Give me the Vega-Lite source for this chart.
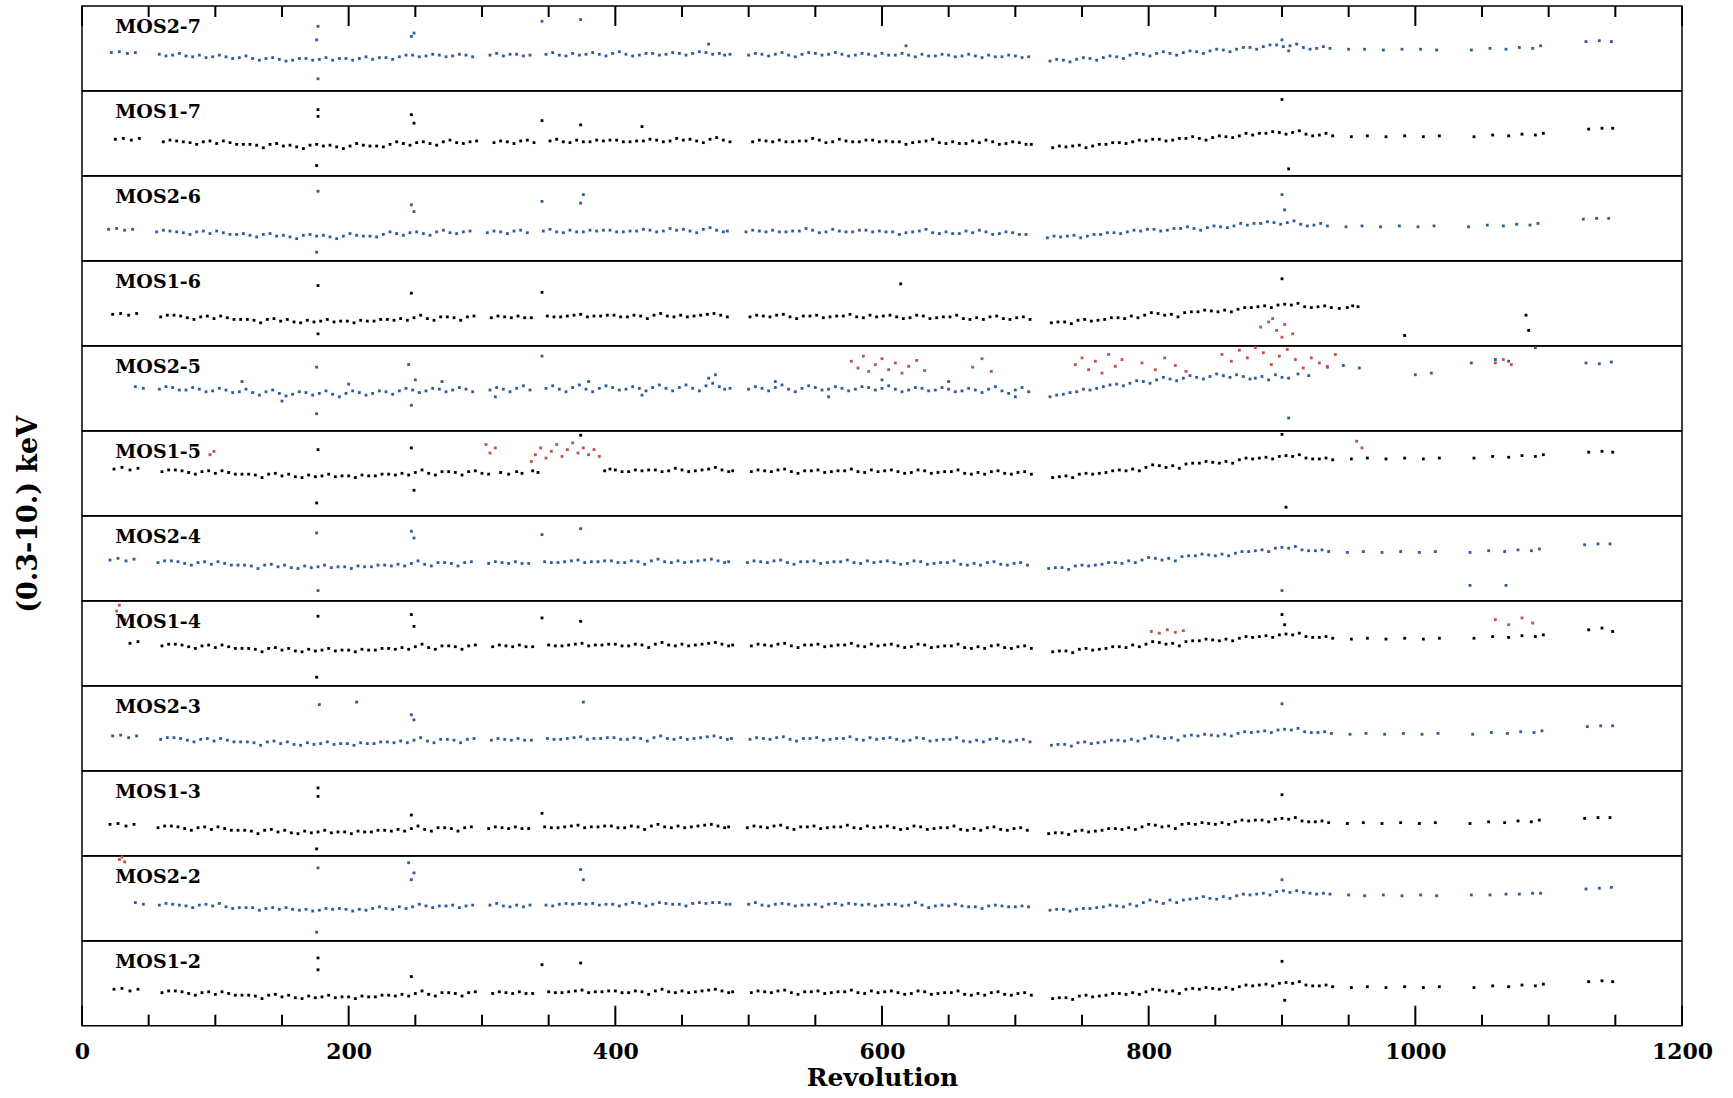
{
"$schema": "https://vega.github.io/schema/vega-lite/v6.json",
"background": "white",
"padding": {"left": 14, "top": 5, "right": 5, "bottom": 0},
"title": {"text": "(0.3-10.) keV", "orient": "left", "anchor": "middle", "font": "DejaVu Serif", "fontSize": 27, "fontWeight": "bold", "color": "#000", "offset": 31, "dx": 34},
"spacing": 0,
"bounds": "flush",
"config": {"view": {"stroke": "#000", "strokeWidth": 1.5}, "square": {"size": 8, "opacity": 1}, "text": {"align": "left", "baseline": "middle", "font": "DejaVu Serif", "fontWeight": "bold", "fontSize": 19, "color": "#000"}},
"datasets": {
"p1": [{"r":22,"v":45},{"r":28,"v":46},{"r":34,"v":44},{"r":40,"v":45},{"r":58,"v":43},{"r":63,"v":41},{"r":68,"v":42},{"r":73,"v":44},{"r":78,"v":41},{"r":83,"v":40},{"r":88,"v":42},{"r":93,"v":39},{"r":98,"v":40},{"r":103,"v":42},{"r":108,"v":40},{"r":113,"v":38},{"r":118,"v":39},{"r":123,"v":41},{"r":128,"v":38},{"r":133,"v":36},{"r":138,"v":38},{"r":143,"v":39},{"r":148,"v":37},{"r":153,"v":35},{"r":158,"v":36},{"r":163,"v":38},{"r":168,"v":38},{"r":173,"v":36},{"r":178,"v":37},{"r":183,"v":39},{"r":188,"v":36},{"r":193,"v":38},{"r":198,"v":38},{"r":203,"v":36},{"r":208,"v":38},{"r":213,"v":40},{"r":218,"v":37},{"r":223,"v":39},{"r":228,"v":39},{"r":233,"v":37},{"r":238,"v":40},{"r":243,"v":42},{"r":248,"v":42},{"r":253,"v":40},{"r":258,"v":41},{"r":263,"v":43},{"r":268,"v":42},{"r":273,"v":40},{"r":278,"v":41},{"r":283,"v":43},{"r":288,"v":42},{"r":293,"v":40},{"r":306,"v":42},{"r":311,"v":44},{"r":316,"v":41},{"r":321,"v":43},{"r":326,"v":43},{"r":331,"v":41},{"r":336,"v":42},{"r":348,"v":43},{"r":353,"v":45},{"r":358,"v":42},{"r":363,"v":41},{"r":368,"v":44},{"r":373,"v":42},{"r":378,"v":43},{"r":383,"v":45},{"r":388,"v":43},{"r":393,"v":41},{"r":398,"v":44},{"r":403,"v":46},{"r":408,"v":43},{"r":413,"v":41},{"r":418,"v":42},{"r":423,"v":44},{"r":428,"v":44},{"r":433,"v":42},{"r":438,"v":43},{"r":443,"v":45},{"r":448,"v":44},{"r":453,"v":42},{"r":458,"v":44},{"r":463,"v":46},{"r":468,"v":45},{"r":473,"v":43},{"r":478,"v":44},{"r":482,"v":42},{"r":486,"v":43},{"r":500,"v":42},{"r":505,"v":44},{"r":510,"v":43},{"r":515,"v":41},{"r":520,"v":43},{"r":525,"v":45},{"r":530,"v":42},{"r":535,"v":40},{"r":540,"v":43},{"r":545,"v":45},{"r":550,"v":44},{"r":555,"v":42},{"r":560,"v":43},{"r":565,"v":45},{"r":570,"v":43},{"r":575,"v":41},{"r":580,"v":42},{"r":585,"v":44},{"r":590,"v":43},{"r":595,"v":41},{"r":600,"v":44},{"r":605,"v":42},{"r":610,"v":42},{"r":615,"v":44},{"r":620,"v":42},{"r":625,"v":40},{"r":630,"v":43},{"r":635,"v":41},{"r":640,"v":41},{"r":645,"v":43},{"r":650,"v":42},{"r":655,"v":40},{"r":660,"v":41},{"r":665,"v":43},{"r":670,"v":41},{"r":675,"v":39},{"r":680,"v":42},{"r":685,"v":40},{"r":690,"v":40},{"r":695,"v":42},{"r":700,"v":41},{"r":705,"v":39},{"r":710,"v":40},{"r":726,"v":35},{"r":731,"v":37},{"r":736,"v":36},{"r":741,"v":34},{"r":746,"v":37},{"r":751,"v":39},{"r":756,"v":38},{"r":761,"v":36},{"r":766,"v":39},{"r":771,"v":41},{"r":776,"v":40},{"r":781,"v":38},{"r":786,"v":42},{"r":791,"v":44},{"r":796,"v":43},{"r":801,"v":41},{"r":806,"v":44},{"r":811,"v":46},{"r":816,"v":44},{"r":821,"v":42},{"r":826,"v":45},{"r":831,"v":47},{"r":836,"v":46},{"r":841,"v":44},{"r":846,"v":47},{"r":851,"v":49},{"r":856,"v":48},{"r":861,"v":46},{"r":866,"v":49},{"r":871,"v":51},{"r":876,"v":51},{"r":881,"v":49},{"r":886,"v":52},{"r":891,"v":54},{"r":896,"v":54},{"r":901,"v":52},{"r":906,"v":53},{"r":911,"v":55},{"r":916,"v":51},{"r":921,"v":49},{"r":926,"v":50},{"r":931,"v":52},{"r":936,"v":50},{"r":950,"v":49},{"r":962,"v":49},{"r":976,"v":48},{"r":990,"v":49},{"r":1004,"v":49},{"r":1016,"v":48},{"r":1042,"v":48},{"r":1056,"v":50},{"r":1068,"v":49},{"r":1078,"v":51},{"r":1088,"v":50},{"r":1094,"v":53},{"r":1128,"v":58},{"r":1138,"v":59},{"r":1147,"v":58},{"r":177,"v":76},{"r":177,"v":14},{"r":176,"v":60},{"r":247,"v":64},{"r":249,"v":68},{"r":345,"v":82},{"r":374,"v":84},{"r":470,"v":55},{"r":618,"v":53},{"r":900,"v":60},{"r":905,"v":47}],
"p2": [{"r":25,"v":43},{"r":31,"v":44},{"r":37,"v":42},{"r":43,"v":44},{"r":61,"v":40},{"r":66,"v":42},{"r":71,"v":41},{"r":76,"v":40},{"r":81,"v":39},{"r":86,"v":37},{"r":91,"v":40},{"r":96,"v":41},{"r":101,"v":38},{"r":106,"v":41},{"r":111,"v":39},{"r":116,"v":37},{"r":121,"v":37},{"r":126,"v":37},{"r":131,"v":36},{"r":136,"v":33},{"r":141,"v":37},{"r":146,"v":38},{"r":151,"v":35},{"r":156,"v":36},{"r":161,"v":34},{"r":166,"v":32},{"r":171,"v":36},{"r":176,"v":37},{"r":181,"v":35},{"r":186,"v":36},{"r":191,"v":34},{"r":196,"v":32},{"r":201,"v":35},{"r":206,"v":38},{"r":211,"v":36},{"r":216,"v":35},{"r":221,"v":35},{"r":226,"v":34},{"r":231,"v":37},{"r":236,"v":40},{"r":241,"v":38},{"r":246,"v":36},{"r":251,"v":39},{"r":256,"v":40},{"r":261,"v":38},{"r":266,"v":36},{"r":271,"v":40},{"r":276,"v":42},{"r":281,"v":39},{"r":286,"v":38},{"r":291,"v":40},{"r":296,"v":41},{"r":309,"v":39},{"r":314,"v":41},{"r":319,"v":40},{"r":324,"v":38},{"r":329,"v":41},{"r":334,"v":42},{"r":339,"v":39},{"r":351,"v":41},{"r":356,"v":43},{"r":361,"v":40},{"r":366,"v":39},{"r":371,"v":42},{"r":376,"v":40},{"r":381,"v":40},{"r":386,"v":42},{"r":391,"v":41},{"r":396,"v":42},{"r":401,"v":42},{"r":406,"v":40},{"r":411,"v":40},{"r":416,"v":41},{"r":421,"v":41},{"r":426,"v":43},{"r":431,"v":42},{"r":436,"v":40},{"r":441,"v":41},{"r":446,"v":44},{"r":451,"v":42},{"r":456,"v":43},{"r":461,"v":41},{"r":466,"v":39},{"r":471,"v":43},{"r":476,"v":45},{"r":481,"v":42},{"r":486,"v":40},{"r":503,"v":40},{"r":508,"v":42},{"r":513,"v":41},{"r":518,"v":40},{"r":523,"v":42},{"r":528,"v":40},{"r":533,"v":40},{"r":538,"v":41},{"r":543,"v":41},{"r":548,"v":44},{"r":553,"v":42},{"r":558,"v":39},{"r":563,"v":40},{"r":568,"v":43},{"r":573,"v":41},{"r":578,"v":40},{"r":583,"v":40},{"r":588,"v":42},{"r":593,"v":42},{"r":598,"v":40},{"r":603,"v":41},{"r":608,"v":40},{"r":613,"v":40},{"r":618,"v":37},{"r":623,"v":39},{"r":628,"v":40},{"r":633,"v":41},{"r":638,"v":43},{"r":643,"v":39},{"r":648,"v":38},{"r":653,"v":40},{"r":658,"v":38},{"r":663,"v":38},{"r":668,"v":41},{"r":673,"v":39},{"r":678,"v":42},{"r":683,"v":40},{"r":688,"v":37},{"r":693,"v":38},{"r":698,"v":40},{"r":703,"v":39},{"r":708,"v":37},{"r":712,"v":37},{"r":728,"v":33},{"r":733,"v":35},{"r":738,"v":34},{"r":743,"v":35},{"r":748,"v":36},{"r":753,"v":33},{"r":758,"v":35},{"r":763,"v":37},{"r":768,"v":37},{"r":773,"v":39},{"r":778,"v":39},{"r":783,"v":38},{"r":788,"v":40},{"r":793,"v":42},{"r":798,"v":41},{"r":803,"v":43},{"r":808,"v":43},{"r":813,"v":41},{"r":818,"v":42},{"r":823,"v":44},{"r":828,"v":44},{"r":833,"v":46},{"r":838,"v":44},{"r":843,"v":42},{"r":848,"v":45},{"r":853,"v":47},{"r":858,"v":46},{"r":863,"v":45},{"r":868,"v":47},{"r":873,"v":50},{"r":878,"v":48},{"r":883,"v":50},{"r":888,"v":50},{"r":893,"v":52},{"r":898,"v":51},{"r":903,"v":49},{"r":908,"v":51},{"r":913,"v":53},{"r":918,"v":49},{"r":923,"v":47},{"r":928,"v":48},{"r":933,"v":50},{"r":938,"v":47},{"r":952,"v":46},{"r":964,"v":47},{"r":978,"v":46},{"r":992,"v":47},{"r":1006,"v":46},{"r":1018,"v":47},{"r":1044,"v":46},{"r":1058,"v":48},{"r":1070,"v":47},{"r":1080,"v":49},{"r":1090,"v":48},{"r":1096,"v":50},{"r":1130,"v":55},{"r":1140,"v":56},{"r":1148,"v":56},{"r":177,"v":78},{"r":177,"v":70},{"r":176,"v":12},{"r":247,"v":72},{"r":249,"v":62},{"r":345,"v":65},{"r":374,"v":60},{"r":420,"v":58},{"r":900,"v":90},{"r":905,"v":8}],
"p3": [{"r":20,"v":37},{"r":26,"v":38},{"r":32,"v":36},{"r":38,"v":37},{"r":56,"v":34},{"r":61,"v":36},{"r":66,"v":35},{"r":71,"v":34},{"r":76,"v":33},{"r":81,"v":31},{"r":86,"v":34},{"r":91,"v":35},{"r":96,"v":32},{"r":101,"v":35},{"r":106,"v":33},{"r":111,"v":31},{"r":116,"v":31},{"r":121,"v":32},{"r":126,"v":30},{"r":131,"v":28},{"r":136,"v":31},{"r":141,"v":32},{"r":146,"v":29},{"r":151,"v":30},{"r":156,"v":28},{"r":161,"v":26},{"r":166,"v":30},{"r":171,"v":31},{"r":176,"v":29},{"r":181,"v":30},{"r":186,"v":28},{"r":191,"v":26},{"r":196,"v":29},{"r":201,"v":32},{"r":206,"v":30},{"r":211,"v":29},{"r":216,"v":29},{"r":221,"v":28},{"r":226,"v":31},{"r":231,"v":34},{"r":236,"v":32},{"r":241,"v":30},{"r":246,"v":33},{"r":251,"v":34},{"r":256,"v":32},{"r":261,"v":30},{"r":266,"v":34},{"r":271,"v":36},{"r":276,"v":33},{"r":281,"v":32},{"r":286,"v":34},{"r":291,"v":35},{"r":304,"v":33},{"r":309,"v":35},{"r":314,"v":34},{"r":319,"v":32},{"r":324,"v":35},{"r":329,"v":36},{"r":334,"v":33},{"r":346,"v":35},{"r":351,"v":37},{"r":356,"v":34},{"r":361,"v":33},{"r":366,"v":36},{"r":371,"v":34},{"r":376,"v":34},{"r":381,"v":36},{"r":386,"v":35},{"r":391,"v":36},{"r":396,"v":36},{"r":401,"v":34},{"r":406,"v":34},{"r":411,"v":35},{"r":416,"v":35},{"r":421,"v":37},{"r":426,"v":36},{"r":431,"v":34},{"r":436,"v":35},{"r":441,"v":38},{"r":446,"v":36},{"r":451,"v":37},{"r":456,"v":35},{"r":461,"v":33},{"r":466,"v":37},{"r":471,"v":39},{"r":476,"v":36},{"r":481,"v":34},{"r":484,"v":35},{"r":498,"v":34},{"r":503,"v":36},{"r":508,"v":35},{"r":513,"v":34},{"r":518,"v":36},{"r":523,"v":34},{"r":528,"v":34},{"r":533,"v":35},{"r":538,"v":35},{"r":543,"v":38},{"r":548,"v":36},{"r":553,"v":33},{"r":558,"v":34},{"r":563,"v":37},{"r":568,"v":35},{"r":573,"v":34},{"r":578,"v":34},{"r":583,"v":36},{"r":588,"v":36},{"r":593,"v":34},{"r":598,"v":35},{"r":603,"v":34},{"r":608,"v":34},{"r":613,"v":31},{"r":618,"v":33},{"r":623,"v":34},{"r":628,"v":35},{"r":633,"v":37},{"r":638,"v":33},{"r":643,"v":32},{"r":648,"v":34},{"r":653,"v":32},{"r":658,"v":32},{"r":663,"v":35},{"r":668,"v":33},{"r":673,"v":36},{"r":678,"v":34},{"r":683,"v":31},{"r":688,"v":32},{"r":693,"v":34},{"r":698,"v":33},{"r":703,"v":31},{"r":708,"v":31},{"r":724,"v":27},{"r":729,"v":29},{"r":734,"v":28},{"r":739,"v":29},{"r":744,"v":30},{"r":749,"v":27},{"r":754,"v":29},{"r":759,"v":31},{"r":764,"v":31},{"r":769,"v":33},{"r":774,"v":33},{"r":779,"v":32},{"r":784,"v":34},{"r":789,"v":36},{"r":794,"v":35},{"r":799,"v":37},{"r":804,"v":37},{"r":809,"v":35},{"r":814,"v":36},{"r":819,"v":38},{"r":824,"v":38},{"r":829,"v":40},{"r":834,"v":38},{"r":839,"v":36},{"r":844,"v":39},{"r":849,"v":41},{"r":854,"v":40},{"r":859,"v":39},{"r":864,"v":41},{"r":869,"v":44},{"r":874,"v":42},{"r":879,"v":44},{"r":884,"v":44},{"r":889,"v":46},{"r":894,"v":45},{"r":899,"v":43},{"r":904,"v":45},{"r":909,"v":47},{"r":914,"v":43},{"r":919,"v":41},{"r":924,"v":42},{"r":929,"v":44},{"r":934,"v":41},{"r":948,"v":40},{"r":960,"v":41},{"r":974,"v":40},{"r":988,"v":41},{"r":1002,"v":40},{"r":1014,"v":41},{"r":1040,"v":40},{"r":1054,"v":42},{"r":1066,"v":41},{"r":1076,"v":43},{"r":1086,"v":42},{"r":1092,"v":44},{"r":1126,"v":49},{"r":1136,"v":50},{"r":1145,"v":50},{"r":177,"v":82},{"r":176,"v":10},{"r":247,"v":66},{"r":249,"v":58},{"r":345,"v":70},{"r":374,"v":68},{"r":376,"v":78},{"r":900,"v":78},{"r":902,"v":60}],
"p4": [{"r":23,"v":37},{"r":29,"v":38},{"r":35,"v":36},{"r":41,"v":38},{"r":59,"v":34},{"r":64,"v":36},{"r":69,"v":36},{"r":74,"v":35},{"r":79,"v":33},{"r":84,"v":31},{"r":89,"v":34},{"r":94,"v":35},{"r":99,"v":32},{"r":104,"v":35},{"r":109,"v":33},{"r":114,"v":31},{"r":119,"v":31},{"r":124,"v":31},{"r":129,"v":30},{"r":134,"v":27},{"r":139,"v":31},{"r":144,"v":32},{"r":149,"v":29},{"r":154,"v":31},{"r":159,"v":28},{"r":164,"v":27},{"r":169,"v":30},{"r":174,"v":28},{"r":179,"v":29},{"r":184,"v":31},{"r":189,"v":28},{"r":194,"v":29},{"r":199,"v":29},{"r":204,"v":27},{"r":209,"v":30},{"r":214,"v":29},{"r":219,"v":29},{"r":224,"v":31},{"r":229,"v":31},{"r":234,"v":30},{"r":239,"v":32},{"r":244,"v":30},{"r":249,"v":33},{"r":254,"v":36},{"r":259,"v":32},{"r":264,"v":30},{"r":269,"v":34},{"r":274,"v":34},{"r":279,"v":33},{"r":284,"v":30},{"r":289,"v":34},{"r":294,"v":35},{"r":307,"v":33},{"r":312,"v":35},{"r":317,"v":34},{"r":322,"v":33},{"r":327,"v":35},{"r":332,"v":33},{"r":337,"v":33},{"r":349,"v":35},{"r":354,"v":34},{"r":359,"v":34},{"r":364,"v":35},{"r":369,"v":36},{"r":374,"v":37},{"r":379,"v":34},{"r":384,"v":35},{"r":389,"v":35},{"r":394,"v":36},{"r":399,"v":36},{"r":404,"v":34},{"r":409,"v":34},{"r":414,"v":36},{"r":419,"v":35},{"r":424,"v":32},{"r":429,"v":36},{"r":434,"v":38},{"r":439,"v":35},{"r":444,"v":34},{"r":449,"v":36},{"r":454,"v":34},{"r":459,"v":35},{"r":464,"v":36},{"r":469,"v":37},{"r":474,"v":38},{"r":479,"v":36},{"r":484,"v":34},{"r":501,"v":34},{"r":506,"v":36},{"r":511,"v":35},{"r":516,"v":34},{"r":521,"v":36},{"r":526,"v":37},{"r":531,"v":34},{"r":536,"v":32},{"r":541,"v":35},{"r":546,"v":35},{"r":551,"v":36},{"r":556,"v":33},{"r":561,"v":34},{"r":566,"v":35},{"r":571,"v":35},{"r":576,"v":37},{"r":581,"v":34},{"r":586,"v":33},{"r":591,"v":36},{"r":596,"v":34},{"r":601,"v":35},{"r":606,"v":36},{"r":611,"v":34},{"r":616,"v":32},{"r":621,"v":33},{"r":626,"v":36},{"r":631,"v":35},{"r":636,"v":32},{"r":641,"v":33},{"r":646,"v":34},{"r":651,"v":34},{"r":656,"v":36},{"r":661,"v":32},{"r":666,"v":31},{"r":671,"v":33},{"r":676,"v":31},{"r":681,"v":34},{"r":686,"v":35},{"r":691,"v":32},{"r":696,"v":31},{"r":701,"v":33},{"r":706,"v":34},{"r":711,"v":31},{"r":727,"v":27},{"r":732,"v":28},{"r":737,"v":28},{"r":742,"v":26},{"r":747,"v":30},{"r":752,"v":31},{"r":757,"v":29},{"r":762,"v":30},{"r":767,"v":31},{"r":772,"v":33},{"r":777,"v":33},{"r":782,"v":32},{"r":787,"v":35},{"r":792,"v":33},{"r":797,"v":36},{"r":802,"v":39},{"r":807,"v":38},{"r":812,"v":36},{"r":817,"v":37},{"r":822,"v":34},{"r":827,"v":39},{"r":832,"v":40},{"r":837,"v":40},{"r":842,"v":42},{"r":847,"v":41},{"r":852,"v":40},{"r":857,"v":42},{"r":862,"v":40},{"r":867,"v":43},{"r":872,"v":45},{"r":877,"v":45},{"r":882,"v":46},{"r":887,"v":47},{"r":892,"v":45},{"r":897,"v":48},{"r":902,"v":49},{"r":907,"v":48},{"r":912,"v":50},{"r":917,"v":46},{"r":922,"v":45},{"r":927,"v":46},{"r":932,"v":47},{"r":937,"v":45},{"r":943,"v":44},{"r":949,"v":45},{"r":953,"v":47},{"r":957,"v":46},{"r":992,"v":12},{"r":1083,"v":36},{"r":1085,"v":18},{"r":177,"v":71},{"r":177,"v":14},{"r":247,"v":62},{"r":345,"v":63},{"r":900,"v":79},{"r":614,"v":73},{"r":884,"v":22,"f":1},{"r":890,"v":28,"f":1},{"r":896,"v":18,"f":1},{"r":902,"v":25,"f":1},{"r":908,"v":14,"f":1},{"r":900,"v":10,"f":1},{"r":893,"v":32,"f":1}],
"p5": [{"r":40,"v":52},{"r":46,"v":50},{"r":58,"v":49},{"r":63,"v":52},{"r":68,"v":51},{"r":73,"v":48},{"r":78,"v":48},{"r":83,"v":51},{"r":88,"v":49},{"r":93,"v":46},{"r":98,"v":47},{"r":103,"v":50},{"r":108,"v":48},{"r":113,"v":45},{"r":118,"v":46},{"r":123,"v":49},{"r":128,"v":45},{"r":133,"v":42},{"r":138,"v":46},{"r":143,"v":48},{"r":148,"v":44},{"r":153,"v":41},{"r":158,"v":43},{"r":163,"v":46},{"r":168,"v":45},{"r":173,"v":42},{"r":178,"v":44},{"r":183,"v":47},{"r":188,"v":43},{"r":193,"v":40},{"r":198,"v":44},{"r":203,"v":47},{"r":208,"v":45},{"r":213,"v":42},{"r":218,"v":44},{"r":223,"v":47},{"r":228,"v":46},{"r":233,"v":43},{"r":238,"v":47},{"r":243,"v":50},{"r":248,"v":48},{"r":253,"v":45},{"r":258,"v":47},{"r":263,"v":50},{"r":268,"v":49},{"r":273,"v":46},{"r":278,"v":48},{"r":283,"v":51},{"r":288,"v":49},{"r":293,"v":46},{"r":306,"v":48},{"r":311,"v":51},{"r":316,"v":49},{"r":321,"v":46},{"r":326,"v":50},{"r":331,"v":53},{"r":336,"v":48},{"r":348,"v":50},{"r":353,"v":53},{"r":358,"v":49},{"r":363,"v":46},{"r":368,"v":51},{"r":373,"v":54},{"r":378,"v":49},{"r":383,"v":46},{"r":388,"v":50},{"r":393,"v":53},{"r":398,"v":51},{"r":403,"v":48},{"r":408,"v":49},{"r":413,"v":52},{"r":418,"v":50},{"r":423,"v":47},{"r":428,"v":51},{"r":433,"v":54},{"r":438,"v":50},{"r":443,"v":47},{"r":448,"v":51},{"r":453,"v":54},{"r":458,"v":50},{"r":463,"v":47},{"r":468,"v":53},{"r":473,"v":56},{"r":478,"v":52},{"r":482,"v":49},{"r":486,"v":50},{"r":500,"v":49},{"r":505,"v":52},{"r":510,"v":50},{"r":515,"v":47},{"r":520,"v":51},{"r":525,"v":54},{"r":530,"v":49},{"r":535,"v":46},{"r":540,"v":50},{"r":545,"v":53},{"r":550,"v":51},{"r":555,"v":48},{"r":560,"v":49},{"r":565,"v":52},{"r":570,"v":50},{"r":575,"v":47},{"r":580,"v":49},{"r":585,"v":52},{"r":590,"v":51},{"r":595,"v":48},{"r":600,"v":50},{"r":605,"v":53},{"r":610,"v":49},{"r":615,"v":46},{"r":620,"v":48},{"r":625,"v":51},{"r":630,"v":50},{"r":635,"v":47},{"r":640,"v":48},{"r":645,"v":51},{"r":650,"v":49},{"r":655,"v":46},{"r":660,"v":47},{"r":665,"v":50},{"r":670,"v":48},{"r":675,"v":45},{"r":680,"v":49},{"r":685,"v":52},{"r":690,"v":47},{"r":695,"v":44},{"r":700,"v":48},{"r":705,"v":51},{"r":710,"v":46},{"r":726,"v":40},{"r":731,"v":42},{"r":736,"v":43},{"r":741,"v":45},{"r":746,"v":46},{"r":751,"v":49},{"r":756,"v":48},{"r":761,"v":50},{"r":766,"v":52},{"r":771,"v":54},{"r":776,"v":55},{"r":781,"v":53},{"r":786,"v":56},{"r":791,"v":59},{"r":796,"v":58},{"r":801,"v":56},{"r":806,"v":60},{"r":811,"v":63},{"r":816,"v":61},{"r":821,"v":59},{"r":826,"v":62},{"r":831,"v":65},{"r":836,"v":63},{"r":841,"v":61},{"r":846,"v":64},{"r":851,"v":67},{"r":856,"v":65},{"r":861,"v":63},{"r":866,"v":66},{"r":871,"v":64},{"r":876,"v":61},{"r":880,"v":62},{"r":885,"v":64},{"r":890,"v":60},{"r":895,"v":66},{"r":900,"v":63},{"r":905,"v":62},{"r":912,"v":67},{"r":920,"v":65},{"r":934,"v":75},{"r":946,"v":77},{"r":958,"v":74},{"r":1000,"v":66},{"r":1012,"v":68},{"r":1042,"v":80},{"r":1060,"v":84},{"r":1070,"v":82},{"r":1090,"v":98},{"r":1128,"v":80},{"r":1138,"v":79},{"r":1147,"v":81},{"r":120,"v":58},{"r":150,"v":35},{"r":200,"v":55},{"r":250,"v":60},{"r":270,"v":58},{"r":310,"v":40},{"r":380,"v":58},{"r":420,"v":42},{"r":470,"v":62},{"r":475,"v":66},{"r":520,"v":58},{"r":560,"v":40},{"r":600,"v":60},{"r":650,"v":58},{"r":700,"v":40},{"r":176,"v":75},{"r":176,"v":20},{"r":245,"v":78},{"r":247,"v":30},{"r":345,"v":88},{"r":905,"v":15},{"r":577,"v":82,"f":1},{"r":582,"v":74,"f":1},{"r":586,"v":88,"f":1},{"r":590,"v":70,"f":1},{"r":595,"v":78,"f":1},{"r":600,"v":85,"f":1},{"r":605,"v":72,"f":1},{"r":610,"v":80,"f":1},{"r":615,"v":68,"f":1},{"r":620,"v":76,"f":1},{"r":626,"v":83,"f":1},{"r":632,"v":71,"f":1},{"r":668,"v":75,"f":1},{"r":675,"v":85,"f":1},{"r":682,"v":70,"f":1},{"r":745,"v":78,"f":1},{"r":750,"v":86,"f":1},{"r":755,"v":72,"f":1},{"r":760,"v":82,"f":1},{"r":765,"v":68,"f":1},{"r":770,"v":90,"f":1},{"r":775,"v":76,"f":1},{"r":780,"v":84,"f":1},{"r":795,"v":80,"f":1},{"r":805,"v":72,"f":1},{"r":812,"v":86,"f":1},{"r":820,"v":77,"f":1},{"r":828,"v":70,"f":1},{"r":855,"v":90,"f":1},{"r":862,"v":82,"f":1},{"r":868,"v":95,"f":1},{"r":874,"v":86,"f":1},{"r":880,"v":98,"f":1},{"r":886,"v":92,"f":1},{"r":892,"v":78,"f":1},{"r":898,"v":88,"f":1},{"r":904,"v":96,"f":1},{"r":910,"v":84,"f":1},{"r":916,"v":74,"f":1},{"r":922,"v":86,"f":1},{"r":928,"v":80,"f":1},{"r":934,"v":76,"f":1},{"r":940,"v":90,"f":1},{"r":1060,"v":80,"f":1},{"r":1066,"v":84,"f":1},{"r":1072,"v":78,"f":1}],
"p6": [{"r":24,"v":55},{"r":30,"v":57},{"r":36,"v":54},{"r":42,"v":56},{"r":60,"v":52},{"r":65,"v":54},{"r":70,"v":54},{"r":75,"v":53},{"r":80,"v":51},{"r":85,"v":49},{"r":90,"v":52},{"r":95,"v":53},{"r":100,"v":50},{"r":105,"v":53},{"r":110,"v":51},{"r":115,"v":49},{"r":120,"v":49},{"r":125,"v":49},{"r":130,"v":48},{"r":135,"v":45},{"r":140,"v":49},{"r":145,"v":50},{"r":150,"v":47},{"r":155,"v":49},{"r":160,"v":46},{"r":165,"v":45},{"r":170,"v":48},{"r":175,"v":46},{"r":180,"v":47},{"r":185,"v":49},{"r":190,"v":46},{"r":195,"v":47},{"r":200,"v":47},{"r":205,"v":45},{"r":210,"v":48},{"r":215,"v":47},{"r":220,"v":47},{"r":225,"v":49},{"r":230,"v":49},{"r":235,"v":48},{"r":240,"v":50},{"r":245,"v":48},{"r":250,"v":51},{"r":255,"v":54},{"r":260,"v":50},{"r":265,"v":48},{"r":270,"v":52},{"r":275,"v":52},{"r":280,"v":51},{"r":285,"v":48},{"r":290,"v":52},{"r":295,"v":53},{"r":300,"v":50},{"r":305,"v":49},{"r":314,"v":51},{"r":320,"v":49},{"r":326,"v":52},{"r":330,"v":50},{"r":338,"v":53},{"r":342,"v":51},{"r":392,"v":53},{"r":396,"v":55},{"r":400,"v":54},{"r":405,"v":52},{"r":410,"v":52},{"r":415,"v":54},{"r":420,"v":53},{"r":425,"v":54},{"r":430,"v":54},{"r":435,"v":52},{"r":440,"v":53},{"r":445,"v":56},{"r":450,"v":54},{"r":455,"v":52},{"r":460,"v":53},{"r":465,"v":54},{"r":470,"v":55},{"r":475,"v":57},{"r":480,"v":54},{"r":485,"v":52},{"r":488,"v":53},{"r":502,"v":52},{"r":507,"v":54},{"r":512,"v":53},{"r":517,"v":52},{"r":522,"v":54},{"r":527,"v":55},{"r":532,"v":52},{"r":537,"v":50},{"r":542,"v":53},{"r":547,"v":53},{"r":552,"v":54},{"r":557,"v":51},{"r":562,"v":52},{"r":567,"v":53},{"r":572,"v":53},{"r":577,"v":55},{"r":582,"v":52},{"r":587,"v":51},{"r":592,"v":54},{"r":597,"v":52},{"r":602,"v":53},{"r":607,"v":54},{"r":612,"v":52},{"r":617,"v":50},{"r":622,"v":51},{"r":627,"v":54},{"r":632,"v":53},{"r":637,"v":50},{"r":642,"v":51},{"r":647,"v":52},{"r":652,"v":52},{"r":657,"v":54},{"r":662,"v":50},{"r":667,"v":49},{"r":672,"v":51},{"r":677,"v":49},{"r":682,"v":52},{"r":687,"v":53},{"r":692,"v":50},{"r":697,"v":49},{"r":702,"v":51},{"r":707,"v":52},{"r":712,"v":49},{"r":728,"v":45},{"r":733,"v":46},{"r":738,"v":47},{"r":743,"v":45},{"r":748,"v":49},{"r":753,"v":50},{"r":758,"v":49},{"r":763,"v":50},{"r":768,"v":51},{"r":773,"v":53},{"r":778,"v":54},{"r":783,"v":53},{"r":788,"v":55},{"r":793,"v":53},{"r":798,"v":57},{"r":803,"v":60},{"r":808,"v":59},{"r":813,"v":57},{"r":818,"v":59},{"r":823,"v":56},{"r":828,"v":61},{"r":833,"v":62},{"r":838,"v":62},{"r":843,"v":64},{"r":848,"v":63},{"r":853,"v":62},{"r":858,"v":64},{"r":863,"v":62},{"r":868,"v":66},{"r":873,"v":68},{"r":878,"v":67},{"r":883,"v":68},{"r":888,"v":69},{"r":893,"v":67},{"r":898,"v":70},{"r":903,"v":71},{"r":908,"v":70},{"r":913,"v":72},{"r":918,"v":68},{"r":923,"v":67},{"r":928,"v":67},{"r":933,"v":68},{"r":938,"v":66},{"r":952,"v":67},{"r":964,"v":68},{"r":978,"v":67},{"r":992,"v":68},{"r":1006,"v":67},{"r":1018,"v":68},{"r":1044,"v":68},{"r":1058,"v":70},{"r":1070,"v":69},{"r":1080,"v":71},{"r":1090,"v":70},{"r":1096,"v":72},{"r":1130,"v":75},{"r":1140,"v":76},{"r":1148,"v":75},{"r":177,"v":78},{"r":176,"v":15},{"r":247,"v":80},{"r":249,"v":30},{"r":374,"v":95},{"r":900,"v":96},{"r":903,"v":10},{"r":96,"v":72,"f":1},{"r":99,"v":76,"f":1},{"r":303,"v":84,"f":1},{"r":306,"v":74,"f":1},{"r":310,"v":80,"f":1},{"r":337,"v":64,"f":1},{"r":340,"v":72,"f":1},{"r":344,"v":80,"f":1},{"r":348,"v":68,"f":1},{"r":352,"v":76,"f":1},{"r":356,"v":84,"f":1},{"r":360,"v":70,"f":1},{"r":364,"v":78,"f":1},{"r":368,"v":86,"f":1},{"r":372,"v":74,"f":1},{"r":376,"v":80,"f":1},{"r":380,"v":72,"f":1},{"r":384,"v":78,"f":1},{"r":388,"v":70,"f":1},{"r":956,"v":88,"f":1},{"r":960,"v":80,"f":1}],
"p7": [{"r":21,"v":48},{"r":27,"v":50},{"r":33,"v":47},{"r":39,"v":49},{"r":57,"v":45},{"r":62,"v":47},{"r":67,"v":47},{"r":72,"v":46},{"r":77,"v":44},{"r":82,"v":42},{"r":87,"v":45},{"r":92,"v":46},{"r":97,"v":43},{"r":102,"v":46},{"r":107,"v":44},{"r":112,"v":42},{"r":117,"v":42},{"r":122,"v":42},{"r":127,"v":41},{"r":132,"v":38},{"r":137,"v":42},{"r":142,"v":43},{"r":147,"v":40},{"r":152,"v":42},{"r":157,"v":39},{"r":162,"v":38},{"r":167,"v":41},{"r":172,"v":39},{"r":177,"v":40},{"r":182,"v":42},{"r":187,"v":39},{"r":192,"v":40},{"r":197,"v":40},{"r":202,"v":38},{"r":207,"v":41},{"r":212,"v":40},{"r":217,"v":40},{"r":222,"v":42},{"r":227,"v":42},{"r":232,"v":41},{"r":237,"v":43},{"r":242,"v":41},{"r":247,"v":44},{"r":252,"v":47},{"r":257,"v":43},{"r":262,"v":41},{"r":267,"v":45},{"r":272,"v":45},{"r":277,"v":44},{"r":282,"v":41},{"r":287,"v":45},{"r":292,"v":46},{"r":305,"v":44},{"r":310,"v":46},{"r":315,"v":45},{"r":320,"v":44},{"r":325,"v":46},{"r":330,"v":44},{"r":335,"v":44},{"r":347,"v":46},{"r":352,"v":45},{"r":357,"v":45},{"r":362,"v":46},{"r":367,"v":47},{"r":372,"v":48},{"r":377,"v":45},{"r":382,"v":46},{"r":387,"v":46},{"r":392,"v":47},{"r":397,"v":47},{"r":402,"v":45},{"r":407,"v":45},{"r":412,"v":47},{"r":417,"v":46},{"r":422,"v":43},{"r":427,"v":47},{"r":432,"v":49},{"r":437,"v":46},{"r":442,"v":45},{"r":447,"v":47},{"r":452,"v":45},{"r":457,"v":46},{"r":462,"v":47},{"r":467,"v":48},{"r":472,"v":49},{"r":477,"v":47},{"r":482,"v":45},{"r":485,"v":46},{"r":499,"v":45},{"r":504,"v":47},{"r":509,"v":46},{"r":514,"v":45},{"r":519,"v":47},{"r":524,"v":48},{"r":529,"v":45},{"r":534,"v":43},{"r":539,"v":46},{"r":544,"v":46},{"r":549,"v":47},{"r":554,"v":44},{"r":559,"v":45},{"r":564,"v":46},{"r":569,"v":46},{"r":574,"v":48},{"r":579,"v":45},{"r":584,"v":44},{"r":589,"v":47},{"r":594,"v":45},{"r":599,"v":46},{"r":604,"v":47},{"r":609,"v":45},{"r":614,"v":43},{"r":619,"v":44},{"r":624,"v":47},{"r":629,"v":46},{"r":634,"v":43},{"r":639,"v":44},{"r":644,"v":45},{"r":649,"v":45},{"r":654,"v":47},{"r":659,"v":43},{"r":664,"v":42},{"r":669,"v":44},{"r":674,"v":42},{"r":679,"v":45},{"r":684,"v":46},{"r":689,"v":43},{"r":694,"v":42},{"r":699,"v":44},{"r":704,"v":45},{"r":709,"v":42},{"r":725,"v":38},{"r":730,"v":39},{"r":735,"v":39},{"r":740,"v":37},{"r":745,"v":41},{"r":750,"v":42},{"r":755,"v":41},{"r":760,"v":42},{"r":765,"v":43},{"r":770,"v":45},{"r":775,"v":45},{"r":780,"v":44},{"r":785,"v":47},{"r":790,"v":45},{"r":795,"v":48},{"r":800,"v":51},{"r":805,"v":50},{"r":810,"v":48},{"r":815,"v":50},{"r":820,"v":47},{"r":825,"v":52},{"r":830,"v":53},{"r":835,"v":53},{"r":840,"v":55},{"r":845,"v":54},{"r":850,"v":53},{"r":855,"v":55},{"r":860,"v":53},{"r":865,"v":56},{"r":870,"v":58},{"r":875,"v":58},{"r":880,"v":59},{"r":885,"v":60},{"r":890,"v":58},{"r":895,"v":62},{"r":900,"v":63},{"r":905,"v":62},{"r":910,"v":64},{"r":915,"v":60},{"r":920,"v":59},{"r":925,"v":59},{"r":930,"v":60},{"r":935,"v":58},{"r":949,"v":57},{"r":961,"v":58},{"r":975,"v":57},{"r":989,"v":58},{"r":1003,"v":57},{"r":1015,"v":58},{"r":1041,"v":57},{"r":1055,"v":59},{"r":1067,"v":58},{"r":1077,"v":60},{"r":1087,"v":59},{"r":1093,"v":61},{"r":1127,"v":66},{"r":1137,"v":67},{"r":1146,"v":67},{"r":176,"v":80},{"r":177,"v":12},{"r":247,"v":82},{"r":249,"v":74},{"r":345,"v":78},{"r":374,"v":85},{"r":900,"v":12},{"r":1041,"v":18},{"r":1068,"v":18}],
"p8": [{"r":36,"v":50},{"r":42,"v":52},{"r":60,"v":47},{"r":65,"v":49},{"r":70,"v":49},{"r":75,"v":48},{"r":80,"v":46},{"r":85,"v":44},{"r":90,"v":47},{"r":95,"v":48},{"r":100,"v":45},{"r":105,"v":48},{"r":110,"v":46},{"r":115,"v":44},{"r":120,"v":44},{"r":125,"v":44},{"r":130,"v":43},{"r":135,"v":40},{"r":140,"v":44},{"r":145,"v":45},{"r":150,"v":42},{"r":155,"v":44},{"r":160,"v":41},{"r":165,"v":40},{"r":170,"v":43},{"r":175,"v":41},{"r":180,"v":42},{"r":185,"v":44},{"r":190,"v":41},{"r":195,"v":42},{"r":200,"v":42},{"r":205,"v":40},{"r":210,"v":43},{"r":215,"v":42},{"r":220,"v":42},{"r":225,"v":44},{"r":230,"v":44},{"r":235,"v":43},{"r":240,"v":45},{"r":245,"v":43},{"r":250,"v":46},{"r":255,"v":49},{"r":260,"v":45},{"r":265,"v":43},{"r":270,"v":47},{"r":275,"v":47},{"r":280,"v":46},{"r":285,"v":43},{"r":290,"v":47},{"r":295,"v":48},{"r":308,"v":46},{"r":313,"v":48},{"r":318,"v":47},{"r":323,"v":46},{"r":328,"v":48},{"r":333,"v":46},{"r":338,"v":46},{"r":350,"v":48},{"r":355,"v":47},{"r":360,"v":47},{"r":365,"v":48},{"r":370,"v":49},{"r":375,"v":50},{"r":380,"v":47},{"r":385,"v":48},{"r":390,"v":48},{"r":395,"v":49},{"r":400,"v":49},{"r":405,"v":47},{"r":410,"v":47},{"r":415,"v":49},{"r":420,"v":48},{"r":425,"v":45},{"r":430,"v":49},{"r":435,"v":51},{"r":440,"v":48},{"r":445,"v":47},{"r":450,"v":49},{"r":455,"v":47},{"r":460,"v":48},{"r":465,"v":49},{"r":470,"v":50},{"r":475,"v":51},{"r":480,"v":49},{"r":485,"v":47},{"r":488,"v":48},{"r":502,"v":47},{"r":507,"v":49},{"r":512,"v":48},{"r":517,"v":47},{"r":522,"v":49},{"r":527,"v":50},{"r":532,"v":47},{"r":537,"v":45},{"r":542,"v":48},{"r":547,"v":48},{"r":552,"v":49},{"r":557,"v":46},{"r":562,"v":47},{"r":567,"v":48},{"r":572,"v":48},{"r":577,"v":50},{"r":582,"v":47},{"r":587,"v":46},{"r":592,"v":49},{"r":597,"v":47},{"r":602,"v":48},{"r":607,"v":49},{"r":612,"v":47},{"r":617,"v":45},{"r":622,"v":46},{"r":627,"v":49},{"r":632,"v":48},{"r":637,"v":45},{"r":642,"v":46},{"r":647,"v":47},{"r":652,"v":47},{"r":657,"v":49},{"r":662,"v":45},{"r":667,"v":44},{"r":672,"v":46},{"r":677,"v":44},{"r":682,"v":47},{"r":687,"v":48},{"r":692,"v":45},{"r":697,"v":44},{"r":702,"v":46},{"r":707,"v":47},{"r":712,"v":44},{"r":728,"v":40},{"r":733,"v":41},{"r":738,"v":41},{"r":743,"v":39},{"r":748,"v":43},{"r":753,"v":44},{"r":758,"v":42},{"r":763,"v":43},{"r":768,"v":44},{"r":773,"v":46},{"r":778,"v":46},{"r":783,"v":45},{"r":788,"v":48},{"r":793,"v":46},{"r":798,"v":49},{"r":803,"v":52},{"r":808,"v":51},{"r":813,"v":49},{"r":818,"v":50},{"r":823,"v":47},{"r":828,"v":52},{"r":833,"v":53},{"r":838,"v":53},{"r":843,"v":55},{"r":848,"v":54},{"r":853,"v":53},{"r":858,"v":55},{"r":863,"v":53},{"r":868,"v":56},{"r":873,"v":58},{"r":878,"v":57},{"r":883,"v":58},{"r":888,"v":59},{"r":893,"v":57},{"r":898,"v":60},{"r":903,"v":61},{"r":908,"v":60},{"r":913,"v":62},{"r":918,"v":58},{"r":923,"v":57},{"r":928,"v":57},{"r":933,"v":58},{"r":938,"v":56},{"r":952,"v":55},{"r":964,"v":56},{"r":978,"v":55},{"r":992,"v":56},{"r":1006,"v":55},{"r":1018,"v":56},{"r":1044,"v":56},{"r":1058,"v":58},{"r":1070,"v":57},{"r":1080,"v":59},{"r":1090,"v":58},{"r":1096,"v":60},{"r":1130,"v":66},{"r":1140,"v":68},{"r":1148,"v":64},{"r":177,"v":82},{"r":176,"v":10},{"r":247,"v":84},{"r":249,"v":70},{"r":345,"v":80},{"r":374,"v":76},{"r":900,"v":84},{"r":902,"v":72},{"r":26,"v":88,"f":1},{"r":28,"v":95,"f":1},{"r":30,"v":82,"f":1},{"r":32,"v":78,"f":1},{"r":802,"v":64,"f":1},{"r":808,"v":62,"f":1},{"r":814,"v":66,"f":1},{"r":820,"v":63,"f":1},{"r":826,"v":65,"f":1},{"r":1060,"v":78,"f":1},{"r":1070,"v":72,"f":1},{"r":1080,"v":80,"f":1},{"r":1088,"v":74,"f":1}],
"p9": [{"r":23,"v":41},{"r":29,"v":42},{"r":35,"v":39},{"r":41,"v":41},{"r":59,"v":37},{"r":64,"v":39},{"r":69,"v":39},{"r":74,"v":38},{"r":79,"v":36},{"r":84,"v":34},{"r":89,"v":37},{"r":94,"v":38},{"r":99,"v":35},{"r":104,"v":38},{"r":109,"v":36},{"r":114,"v":34},{"r":119,"v":34},{"r":124,"v":34},{"r":129,"v":33},{"r":134,"v":30},{"r":139,"v":34},{"r":144,"v":35},{"r":149,"v":32},{"r":154,"v":34},{"r":159,"v":31},{"r":164,"v":30},{"r":169,"v":33},{"r":174,"v":31},{"r":179,"v":32},{"r":184,"v":34},{"r":189,"v":31},{"r":194,"v":32},{"r":199,"v":32},{"r":204,"v":30},{"r":209,"v":33},{"r":214,"v":32},{"r":219,"v":32},{"r":224,"v":34},{"r":229,"v":34},{"r":234,"v":33},{"r":239,"v":35},{"r":244,"v":33},{"r":249,"v":36},{"r":254,"v":39},{"r":259,"v":35},{"r":264,"v":33},{"r":269,"v":37},{"r":274,"v":37},{"r":279,"v":36},{"r":284,"v":33},{"r":289,"v":37},{"r":294,"v":38},{"r":307,"v":36},{"r":312,"v":38},{"r":317,"v":37},{"r":322,"v":36},{"r":327,"v":38},{"r":332,"v":36},{"r":337,"v":36},{"r":349,"v":38},{"r":354,"v":37},{"r":359,"v":37},{"r":364,"v":38},{"r":369,"v":39},{"r":374,"v":40},{"r":379,"v":37},{"r":384,"v":38},{"r":389,"v":38},{"r":394,"v":39},{"r":399,"v":39},{"r":404,"v":37},{"r":409,"v":37},{"r":414,"v":39},{"r":419,"v":38},{"r":424,"v":35},{"r":429,"v":39},{"r":434,"v":41},{"r":439,"v":38},{"r":444,"v":37},{"r":449,"v":39},{"r":454,"v":37},{"r":459,"v":38},{"r":464,"v":39},{"r":469,"v":40},{"r":474,"v":41},{"r":479,"v":39},{"r":484,"v":37},{"r":487,"v":38},{"r":501,"v":37},{"r":506,"v":39},{"r":511,"v":38},{"r":516,"v":37},{"r":521,"v":39},{"r":526,"v":40},{"r":531,"v":37},{"r":536,"v":35},{"r":541,"v":38},{"r":546,"v":38},{"r":551,"v":39},{"r":556,"v":36},{"r":561,"v":37},{"r":566,"v":38},{"r":571,"v":38},{"r":576,"v":40},{"r":581,"v":37},{"r":586,"v":36},{"r":591,"v":39},{"r":596,"v":37},{"r":601,"v":38},{"r":606,"v":39},{"r":611,"v":37},{"r":616,"v":35},{"r":621,"v":36},{"r":626,"v":39},{"r":631,"v":38},{"r":636,"v":35},{"r":641,"v":36},{"r":646,"v":37},{"r":651,"v":37},{"r":656,"v":39},{"r":661,"v":35},{"r":666,"v":34},{"r":671,"v":36},{"r":676,"v":34},{"r":681,"v":37},{"r":686,"v":38},{"r":691,"v":35},{"r":696,"v":34},{"r":701,"v":36},{"r":706,"v":37},{"r":711,"v":34},{"r":727,"v":30},{"r":732,"v":31},{"r":737,"v":31},{"r":742,"v":29},{"r":747,"v":33},{"r":752,"v":34},{"r":757,"v":32},{"r":762,"v":33},{"r":767,"v":34},{"r":772,"v":36},{"r":777,"v":36},{"r":782,"v":35},{"r":787,"v":37},{"r":792,"v":35},{"r":797,"v":38},{"r":802,"v":41},{"r":807,"v":40},{"r":812,"v":38},{"r":817,"v":39},{"r":822,"v":36},{"r":827,"v":41},{"r":832,"v":42},{"r":837,"v":41},{"r":842,"v":43},{"r":847,"v":42},{"r":852,"v":41},{"r":857,"v":43},{"r":862,"v":41},{"r":867,"v":44},{"r":872,"v":46},{"r":877,"v":45},{"r":882,"v":46},{"r":887,"v":47},{"r":892,"v":45},{"r":897,"v":48},{"r":902,"v":49},{"r":907,"v":48},{"r":912,"v":50},{"r":917,"v":46},{"r":922,"v":45},{"r":927,"v":45},{"r":932,"v":46},{"r":937,"v":44},{"r":951,"v":43},{"r":963,"v":44},{"r":977,"v":43},{"r":991,"v":44},{"r":1005,"v":43},{"r":1017,"v":44},{"r":1043,"v":43},{"r":1057,"v":45},{"r":1069,"v":44},{"r":1079,"v":46},{"r":1089,"v":45},{"r":1095,"v":47},{"r":1129,"v":52},{"r":1139,"v":53},{"r":1148,"v":53},{"r":178,"v":78},{"r":206,"v":81},{"r":247,"v":66},{"r":249,"v":60},{"r":376,"v":81},{"r":900,"v":79}],
"p10": [{"r":21,"v":37},{"r":27,"v":38},{"r":33,"v":35},{"r":39,"v":37},{"r":57,"v":33},{"r":62,"v":35},{"r":67,"v":35},{"r":72,"v":34},{"r":77,"v":32},{"r":82,"v":30},{"r":87,"v":33},{"r":92,"v":34},{"r":97,"v":31},{"r":102,"v":34},{"r":107,"v":32},{"r":112,"v":30},{"r":117,"v":30},{"r":122,"v":30},{"r":127,"v":29},{"r":132,"v":26},{"r":137,"v":30},{"r":142,"v":31},{"r":147,"v":28},{"r":152,"v":30},{"r":157,"v":27},{"r":162,"v":26},{"r":167,"v":29},{"r":172,"v":27},{"r":177,"v":28},{"r":182,"v":30},{"r":187,"v":27},{"r":192,"v":28},{"r":197,"v":28},{"r":202,"v":26},{"r":207,"v":29},{"r":212,"v":28},{"r":217,"v":28},{"r":222,"v":30},{"r":227,"v":30},{"r":232,"v":29},{"r":237,"v":31},{"r":242,"v":29},{"r":247,"v":32},{"r":252,"v":35},{"r":257,"v":31},{"r":262,"v":29},{"r":267,"v":33},{"r":272,"v":33},{"r":277,"v":32},{"r":282,"v":29},{"r":287,"v":33},{"r":292,"v":34},{"r":305,"v":32},{"r":310,"v":34},{"r":315,"v":33},{"r":320,"v":32},{"r":325,"v":34},{"r":330,"v":32},{"r":335,"v":32},{"r":347,"v":34},{"r":352,"v":33},{"r":357,"v":33},{"r":362,"v":34},{"r":367,"v":35},{"r":372,"v":36},{"r":377,"v":33},{"r":382,"v":34},{"r":387,"v":34},{"r":392,"v":35},{"r":397,"v":35},{"r":402,"v":33},{"r":407,"v":33},{"r":412,"v":35},{"r":417,"v":34},{"r":422,"v":31},{"r":427,"v":35},{"r":432,"v":37},{"r":437,"v":34},{"r":442,"v":33},{"r":447,"v":35},{"r":452,"v":33},{"r":457,"v":34},{"r":462,"v":35},{"r":467,"v":36},{"r":472,"v":37},{"r":477,"v":35},{"r":482,"v":33},{"r":485,"v":34},{"r":499,"v":33},{"r":504,"v":35},{"r":509,"v":34},{"r":514,"v":33},{"r":519,"v":35},{"r":524,"v":36},{"r":529,"v":33},{"r":534,"v":31},{"r":539,"v":34},{"r":544,"v":34},{"r":549,"v":35},{"r":554,"v":32},{"r":559,"v":33},{"r":564,"v":34},{"r":569,"v":34},{"r":574,"v":36},{"r":579,"v":33},{"r":584,"v":32},{"r":589,"v":35},{"r":594,"v":33},{"r":599,"v":34},{"r":604,"v":35},{"r":609,"v":33},{"r":614,"v":31},{"r":619,"v":32},{"r":624,"v":35},{"r":629,"v":34},{"r":634,"v":31},{"r":639,"v":32},{"r":644,"v":33},{"r":649,"v":33},{"r":654,"v":35},{"r":659,"v":31},{"r":664,"v":30},{"r":669,"v":32},{"r":674,"v":30},{"r":679,"v":33},{"r":684,"v":34},{"r":689,"v":31},{"r":694,"v":30},{"r":699,"v":32},{"r":704,"v":33},{"r":709,"v":30},{"r":725,"v":26},{"r":730,"v":27},{"r":735,"v":27},{"r":740,"v":25},{"r":745,"v":29},{"r":750,"v":30},{"r":755,"v":28},{"r":760,"v":29},{"r":765,"v":30},{"r":770,"v":32},{"r":775,"v":32},{"r":780,"v":31},{"r":785,"v":33},{"r":790,"v":31},{"r":795,"v":34},{"r":800,"v":37},{"r":805,"v":36},{"r":810,"v":34},{"r":815,"v":35},{"r":820,"v":32},{"r":825,"v":37},{"r":830,"v":38},{"r":835,"v":37},{"r":840,"v":39},{"r":845,"v":38},{"r":850,"v":37},{"r":855,"v":39},{"r":860,"v":37},{"r":865,"v":40},{"r":870,"v":42},{"r":875,"v":41},{"r":880,"v":42},{"r":885,"v":42},{"r":890,"v":40},{"r":895,"v":43},{"r":900,"v":44},{"r":905,"v":43},{"r":910,"v":45},{"r":915,"v":41},{"r":920,"v":40},{"r":925,"v":40},{"r":930,"v":41},{"r":935,"v":39},{"r":949,"v":38},{"r":961,"v":39},{"r":975,"v":38},{"r":989,"v":39},{"r":1003,"v":38},{"r":1015,"v":39},{"r":1041,"v":38},{"r":1055,"v":40},{"r":1067,"v":39},{"r":1077,"v":41},{"r":1087,"v":40},{"r":1093,"v":42},{"r":1127,"v":44},{"r":1137,"v":45},{"r":1146,"v":45},{"r":177,"v":80},{"r":177,"v":70},{"r":176,"v":8},{"r":247,"v":48},{"r":900,"v":72},{"r":345,"v":50}],
"p11": [{"r":40,"v":45},{"r":46,"v":43},{"r":58,"v":42},{"r":63,"v":44},{"r":68,"v":43},{"r":73,"v":42},{"r":78,"v":41},{"r":83,"v":39},{"r":88,"v":42},{"r":93,"v":43},{"r":98,"v":41},{"r":103,"v":44},{"r":108,"v":40},{"r":113,"v":38},{"r":118,"v":39},{"r":123,"v":39},{"r":128,"v":39},{"r":133,"v":36},{"r":138,"v":38},{"r":143,"v":39},{"r":148,"v":37},{"r":153,"v":39},{"r":158,"v":37},{"r":163,"v":36},{"r":168,"v":37},{"r":173,"v":35},{"r":178,"v":36},{"r":183,"v":38},{"r":188,"v":37},{"r":193,"v":38},{"r":198,"v":37},{"r":203,"v":35},{"r":208,"v":37},{"r":213,"v":36},{"r":218,"v":38},{"r":223,"v":40},{"r":228,"v":38},{"r":233,"v":37},{"r":238,"v":40},{"r":243,"v":38},{"r":248,"v":40},{"r":253,"v":43},{"r":258,"v":41},{"r":263,"v":39},{"r":268,"v":41},{"r":273,"v":41},{"r":278,"v":42},{"r":283,"v":39},{"r":288,"v":41},{"r":293,"v":42},{"r":306,"v":42},{"r":311,"v":44},{"r":316,"v":41},{"r":321,"v":40},{"r":326,"v":42},{"r":331,"v":40},{"r":336,"v":42},{"r":348,"v":42},{"r":353,"v":41},{"r":358,"v":43},{"r":363,"v":44},{"r":368,"v":43},{"r":373,"v":44},{"r":378,"v":43},{"r":383,"v":44},{"r":388,"v":42},{"r":393,"v":43},{"r":398,"v":43},{"r":403,"v":41},{"r":408,"v":43},{"r":413,"v":45},{"r":418,"v":44},{"r":423,"v":41},{"r":428,"v":43},{"r":433,"v":45},{"r":438,"v":44},{"r":443,"v":43},{"r":448,"v":43},{"r":453,"v":41},{"r":458,"v":44},{"r":463,"v":45},{"r":468,"v":44},{"r":473,"v":45},{"r":478,"v":45},{"r":483,"v":43},{"r":486,"v":43},{"r":500,"v":43},{"r":505,"v":45},{"r":510,"v":42},{"r":515,"v":41},{"r":520,"v":43},{"r":525,"v":44},{"r":530,"v":43},{"r":535,"v":41},{"r":540,"v":42},{"r":545,"v":42},{"r":550,"v":43},{"r":555,"v":40},{"r":560,"v":43},{"r":565,"v":44},{"r":570,"v":42},{"r":575,"v":44},{"r":580,"v":43},{"r":585,"v":42},{"r":590,"v":43},{"r":595,"v":41},{"r":600,"v":42},{"r":605,"v":43},{"r":610,"v":43},{"r":615,"v":41},{"r":620,"v":42},{"r":625,"v":45},{"r":630,"v":42},{"r":635,"v":39},{"r":640,"v":41},{"r":645,"v":42},{"r":650,"v":41},{"r":655,"v":43},{"r":660,"v":41},{"r":665,"v":40},{"r":670,"v":40},{"r":675,"v":38},{"r":680,"v":41},{"r":685,"v":42},{"r":690,"v":41},{"r":695,"v":40},{"r":700,"v":40},{"r":705,"v":41},{"r":710,"v":40},{"r":726,"v":36},{"r":731,"v":37},{"r":736,"v":37},{"r":741,"v":35},{"r":746,"v":37},{"r":751,"v":38},{"r":756,"v":38},{"r":761,"v":39},{"r":766,"v":40},{"r":771,"v":42},{"r":776,"v":41},{"r":781,"v":40},{"r":786,"v":43},{"r":791,"v":41},{"r":796,"v":45},{"r":801,"v":48},{"r":806,"v":46},{"r":811,"v":44},{"r":816,"v":48},{"r":821,"v":45},{"r":826,"v":48},{"r":831,"v":49},{"r":836,"v":50},{"r":841,"v":52},{"r":846,"v":50},{"r":851,"v":49},{"r":856,"v":52},{"r":861,"v":50},{"r":866,"v":53},{"r":871,"v":55},{"r":876,"v":54},{"r":881,"v":55},{"r":886,"v":56},{"r":891,"v":54},{"r":896,"v":58},{"r":901,"v":59},{"r":906,"v":57},{"r":911,"v":59},{"r":916,"v":57},{"r":921,"v":56},{"r":926,"v":55},{"r":931,"v":56},{"r":936,"v":55},{"r":950,"v":54},{"r":962,"v":53},{"r":976,"v":54},{"r":990,"v":53},{"r":1004,"v":54},{"r":1016,"v":53},{"r":1042,"v":54},{"r":1056,"v":54},{"r":1068,"v":55},{"r":1078,"v":55},{"r":1088,"v":56},{"r":1094,"v":56},{"r":1128,"v":61},{"r":1138,"v":62},{"r":1147,"v":63},{"r":177,"v":86},{"r":176,"v":10},{"r":247,"v":72},{"r":249,"v":80},{"r":245,"v":92},{"r":374,"v":84},{"r":376,"v":72},{"r":900,"v":72},{"r":28,"v":96,"f":1},{"r":30,"v":99,"f":1},{"r":32,"v":93,"f":1}],
"p12": [{"r":24,"v":43},{"r":30,"v":44},{"r":36,"v":41},{"r":42,"v":43},{"r":60,"v":39},{"r":65,"v":41},{"r":70,"v":41},{"r":75,"v":40},{"r":80,"v":38},{"r":85,"v":36},{"r":90,"v":39},{"r":95,"v":40},{"r":100,"v":37},{"r":105,"v":40},{"r":110,"v":38},{"r":115,"v":36},{"r":120,"v":36},{"r":125,"v":36},{"r":130,"v":35},{"r":135,"v":32},{"r":140,"v":36},{"r":145,"v":37},{"r":150,"v":34},{"r":155,"v":36},{"r":160,"v":33},{"r":165,"v":32},{"r":170,"v":35},{"r":175,"v":33},{"r":180,"v":34},{"r":185,"v":36},{"r":190,"v":33},{"r":195,"v":34},{"r":200,"v":34},{"r":205,"v":32},{"r":210,"v":35},{"r":215,"v":34},{"r":220,"v":34},{"r":225,"v":36},{"r":230,"v":36},{"r":235,"v":35},{"r":240,"v":37},{"r":245,"v":35},{"r":250,"v":38},{"r":255,"v":41},{"r":260,"v":37},{"r":265,"v":35},{"r":270,"v":39},{"r":275,"v":39},{"r":280,"v":38},{"r":285,"v":35},{"r":290,"v":39},{"r":295,"v":40},{"r":308,"v":38},{"r":313,"v":40},{"r":318,"v":39},{"r":323,"v":38},{"r":328,"v":40},{"r":333,"v":38},{"r":338,"v":38},{"r":350,"v":40},{"r":355,"v":39},{"r":360,"v":39},{"r":365,"v":40},{"r":370,"v":41},{"r":375,"v":42},{"r":380,"v":39},{"r":385,"v":40},{"r":390,"v":40},{"r":395,"v":41},{"r":400,"v":41},{"r":405,"v":39},{"r":410,"v":39},{"r":415,"v":41},{"r":420,"v":40},{"r":425,"v":37},{"r":430,"v":41},{"r":435,"v":43},{"r":440,"v":40},{"r":445,"v":39},{"r":450,"v":41},{"r":455,"v":39},{"r":460,"v":40},{"r":465,"v":41},{"r":470,"v":42},{"r":475,"v":43},{"r":480,"v":41},{"r":485,"v":39},{"r":488,"v":40},{"r":502,"v":39},{"r":507,"v":41},{"r":512,"v":40},{"r":517,"v":39},{"r":522,"v":41},{"r":527,"v":42},{"r":532,"v":39},{"r":537,"v":37},{"r":542,"v":40},{"r":547,"v":40},{"r":552,"v":41},{"r":557,"v":38},{"r":562,"v":39},{"r":567,"v":40},{"r":572,"v":40},{"r":577,"v":42},{"r":582,"v":39},{"r":587,"v":38},{"r":592,"v":41},{"r":597,"v":39},{"r":602,"v":40},{"r":607,"v":41},{"r":612,"v":39},{"r":617,"v":37},{"r":622,"v":38},{"r":627,"v":41},{"r":632,"v":40},{"r":637,"v":37},{"r":642,"v":38},{"r":647,"v":39},{"r":652,"v":39},{"r":657,"v":41},{"r":662,"v":37},{"r":667,"v":36},{"r":672,"v":38},{"r":677,"v":36},{"r":682,"v":39},{"r":687,"v":40},{"r":692,"v":37},{"r":697,"v":36},{"r":702,"v":38},{"r":707,"v":39},{"r":712,"v":36},{"r":728,"v":32},{"r":733,"v":33},{"r":738,"v":33},{"r":743,"v":31},{"r":748,"v":35},{"r":753,"v":36},{"r":758,"v":34},{"r":763,"v":35},{"r":768,"v":36},{"r":773,"v":38},{"r":778,"v":38},{"r":783,"v":37},{"r":788,"v":39},{"r":793,"v":37},{"r":798,"v":40},{"r":803,"v":43},{"r":808,"v":42},{"r":813,"v":40},{"r":818,"v":41},{"r":823,"v":38},{"r":828,"v":43},{"r":833,"v":44},{"r":838,"v":43},{"r":843,"v":45},{"r":848,"v":44},{"r":853,"v":43},{"r":858,"v":45},{"r":863,"v":43},{"r":868,"v":46},{"r":873,"v":48},{"r":878,"v":47},{"r":883,"v":48},{"r":888,"v":49},{"r":893,"v":47},{"r":898,"v":50},{"r":903,"v":51},{"r":908,"v":50},{"r":913,"v":52},{"r":918,"v":48},{"r":923,"v":47},{"r":928,"v":47},{"r":933,"v":48},{"r":938,"v":46},{"r":952,"v":45},{"r":964,"v":46},{"r":978,"v":45},{"r":992,"v":46},{"r":1006,"v":45},{"r":1018,"v":46},{"r":1044,"v":45},{"r":1058,"v":47},{"r":1070,"v":46},{"r":1080,"v":48},{"r":1090,"v":47},{"r":1096,"v":49},{"r":1130,"v":52},{"r":1140,"v":53},{"r":1148,"v":52},{"r":177,"v":80},{"r":177,"v":66},{"r":247,"v":58},{"r":345,"v":72},{"r":374,"v":74},{"r":900,"v":76},{"r":902,"v":30}],
"major": [{"t":0},{"t":200},{"t":400},{"t":600},{"t":800},{"t":1000},{"t":1200}],
"minor": [{"t":50},{"t":100},{"t":150},{"t":250},{"t":300},{"t":350},{"t":450},{"t":500},{"t":550},{"t":650},{"t":700},{"t":750},{"t":850},{"t":900},{"t":950},{"t":1050},{"t":1100},{"t":1150}]
},
"vconcat": [
{"width":1600,"height":84.67,"layer":[
{"data":{"name":"p1"},"mark":"square","encoding":{"x":{"field":"r","type":"quantitative","scale":{"domain":[0,1200],"nice":false},"axis":null},"y":{"field":"v","type":"quantitative","scale":{"domain":[0,100],"nice":false},"axis":null},"color":{"condition":{"test":"datum.f","value":"#c0504d"},"value":"#2f5c9c"}}},
{"data":{"values":[{"t":"MOS2-7"}]},"mark":"text","encoding":{"x":{"datum":25,"type":"quantitative","axis":null},"y":{"datum":75,"type":"quantitative","axis":null},"text":{"field":"t"}}},
{"data":{"name":"major"},"mark":{"type":"tick","orient":"vertical","size":20,"thickness":2,"color":"#000","opacity":1},"encoding":{"x":{"field":"t","type":"quantitative","axis":null},"y":{"datum":88.2,"type":"quantitative","axis":null}}},
{"data":{"name":"minor"},"mark":{"type":"tick","orient":"vertical","size":11,"thickness":2,"color":"#000","opacity":1},"encoding":{"x":{"field":"t","type":"quantitative","axis":null},"y":{"datum":93.5,"type":"quantitative","axis":null}}}
]},
{"width":1600,"height":84.67,"layer":[
{"data":{"name":"p2"},"mark":"square","encoding":{"x":{"field":"r","type":"quantitative","scale":{"domain":[0,1200],"nice":false},"axis":null},"y":{"field":"v","type":"quantitative","scale":{"domain":[0,100],"nice":false},"axis":null},"color":{"condition":{"test":"datum.f","value":"#c0504d"},"value":"#000000"}}},
{"data":{"values":[{"t":"MOS1-7"}]},"mark":"text","encoding":{"x":{"datum":25,"type":"quantitative","axis":null},"y":{"datum":75,"type":"quantitative","axis":null},"text":{"field":"t"}}}
]},
{"width":1600,"height":84.67,"layer":[
{"data":{"name":"p3"},"mark":"square","encoding":{"x":{"field":"r","type":"quantitative","scale":{"domain":[0,1200],"nice":false},"axis":null},"y":{"field":"v","type":"quantitative","scale":{"domain":[0,100],"nice":false},"axis":null},"color":{"condition":{"test":"datum.f","value":"#c0504d"},"value":"#2f5c9c"}}},
{"data":{"values":[{"t":"MOS2-6"}]},"mark":"text","encoding":{"x":{"datum":25,"type":"quantitative","axis":null},"y":{"datum":75,"type":"quantitative","axis":null},"text":{"field":"t"}}}
]},
{"width":1600,"height":84.67,"layer":[
{"data":{"name":"p4"},"mark":"square","encoding":{"x":{"field":"r","type":"quantitative","scale":{"domain":[0,1200],"nice":false},"axis":null},"y":{"field":"v","type":"quantitative","scale":{"domain":[0,100],"nice":false},"axis":null},"color":{"condition":{"test":"datum.f","value":"#c0504d"},"value":"#000000"}}},
{"data":{"values":[{"t":"MOS1-6"}]},"mark":"text","encoding":{"x":{"datum":25,"type":"quantitative","axis":null},"y":{"datum":75,"type":"quantitative","axis":null},"text":{"field":"t"}}}
]},
{"width":1600,"height":84.67,"layer":[
{"data":{"name":"p5"},"mark":"square","encoding":{"x":{"field":"r","type":"quantitative","scale":{"domain":[0,1200],"nice":false},"axis":null},"y":{"field":"v","type":"quantitative","scale":{"domain":[0,100],"nice":false},"axis":null},"color":{"condition":{"test":"datum.f","value":"#c0504d"},"value":"#2f5c9c"}}},
{"data":{"values":[{"t":"MOS2-5"}]},"mark":"text","encoding":{"x":{"datum":25,"type":"quantitative","axis":null},"y":{"datum":75,"type":"quantitative","axis":null},"text":{"field":"t"}}}
]},
{"width":1600,"height":84.67,"layer":[
{"data":{"name":"p6"},"mark":"square","encoding":{"x":{"field":"r","type":"quantitative","scale":{"domain":[0,1200],"nice":false},"axis":null},"y":{"field":"v","type":"quantitative","scale":{"domain":[0,100],"nice":false},"axis":null},"color":{"condition":{"test":"datum.f","value":"#c0504d"},"value":"#000000"}}},
{"data":{"values":[{"t":"MOS1-5"}]},"mark":"text","encoding":{"x":{"datum":25,"type":"quantitative","axis":null},"y":{"datum":75,"type":"quantitative","axis":null},"text":{"field":"t"}}}
]},
{"width":1600,"height":84.67,"layer":[
{"data":{"name":"p7"},"mark":"square","encoding":{"x":{"field":"r","type":"quantitative","scale":{"domain":[0,1200],"nice":false},"axis":null},"y":{"field":"v","type":"quantitative","scale":{"domain":[0,100],"nice":false},"axis":null},"color":{"condition":{"test":"datum.f","value":"#c0504d"},"value":"#2f5c9c"}}},
{"data":{"values":[{"t":"MOS2-4"}]},"mark":"text","encoding":{"x":{"datum":25,"type":"quantitative","axis":null},"y":{"datum":75,"type":"quantitative","axis":null},"text":{"field":"t"}}}
]},
{"width":1600,"height":84.67,"layer":[
{"data":{"name":"p8"},"mark":"square","encoding":{"x":{"field":"r","type":"quantitative","scale":{"domain":[0,1200],"nice":false},"axis":null},"y":{"field":"v","type":"quantitative","scale":{"domain":[0,100],"nice":false},"axis":null},"color":{"condition":{"test":"datum.f","value":"#c0504d"},"value":"#000000"}}},
{"data":{"values":[{"t":"MOS1-4"}]},"mark":"text","encoding":{"x":{"datum":25,"type":"quantitative","axis":null},"y":{"datum":75,"type":"quantitative","axis":null},"text":{"field":"t"}}}
]},
{"width":1600,"height":84.67,"layer":[
{"data":{"name":"p9"},"mark":"square","encoding":{"x":{"field":"r","type":"quantitative","scale":{"domain":[0,1200],"nice":false},"axis":null},"y":{"field":"v","type":"quantitative","scale":{"domain":[0,100],"nice":false},"axis":null},"color":{"condition":{"test":"datum.f","value":"#c0504d"},"value":"#2f5c9c"}}},
{"data":{"values":[{"t":"MOS2-3"}]},"mark":"text","encoding":{"x":{"datum":25,"type":"quantitative","axis":null},"y":{"datum":75,"type":"quantitative","axis":null},"text":{"field":"t"}}}
]},
{"width":1600,"height":84.67,"layer":[
{"data":{"name":"p10"},"mark":"square","encoding":{"x":{"field":"r","type":"quantitative","scale":{"domain":[0,1200],"nice":false},"axis":null},"y":{"field":"v","type":"quantitative","scale":{"domain":[0,100],"nice":false},"axis":null},"color":{"condition":{"test":"datum.f","value":"#c0504d"},"value":"#000000"}}},
{"data":{"values":[{"t":"MOS1-3"}]},"mark":"text","encoding":{"x":{"datum":25,"type":"quantitative","axis":null},"y":{"datum":75,"type":"quantitative","axis":null},"text":{"field":"t"}}}
]},
{"width":1600,"height":84.67,"layer":[
{"data":{"name":"p11"},"mark":"square","encoding":{"x":{"field":"r","type":"quantitative","scale":{"domain":[0,1200],"nice":false},"axis":null},"y":{"field":"v","type":"quantitative","scale":{"domain":[0,100],"nice":false},"axis":null},"color":{"condition":{"test":"datum.f","value":"#c0504d"},"value":"#2f5c9c"}}},
{"data":{"values":[{"t":"MOS2-2"}]},"mark":"text","encoding":{"x":{"datum":25,"type":"quantitative","axis":null},"y":{"datum":75,"type":"quantitative","axis":null},"text":{"field":"t"}}}
]},
{"width":1600,"height":84.67,"layer":[
{"data":{"name":"p12"},"mark":"square","encoding":{"x":{"field":"r","type":"quantitative","scale":{"domain":[0,1200],"nice":false},"axis":{"orient":"bottom","values":[0,200,400,600,800,1000,1200],"format":"d","ticks":false,"domain":false,"grid":false,"labelFlush":false,"labelOverlap":false,"labelFont":"DejaVu Serif","labelFontWeight":"bold","labelFontSize":22,"labelColor":"#000","labelBaseline":"middle","labelPadding":26,"title":"Revolution","titleFont":"DejaVu Serif","titleFontSize":25,"titleFontWeight":"bold","titleColor":"#000","titlePadding":3}},"y":{"field":"v","type":"quantitative","scale":{"domain":[0,100],"nice":false},"axis":null},"color":{"condition":{"test":"datum.f","value":"#c0504d"},"value":"#000000"}}},
{"data":{"values":[{"t":"MOS1-2"}]},"mark":"text","encoding":{"x":{"datum":25,"type":"quantitative","axis":{"orient":"bottom","values":[0,200,400,600,800,1000,1200],"format":"d","ticks":false,"domain":false,"grid":false,"labelFlush":false,"labelOverlap":false,"labelFont":"DejaVu Serif","labelFontWeight":"bold","labelFontSize":22,"labelColor":"#000","labelBaseline":"middle","labelPadding":26,"title":"Revolution","titleFont":"DejaVu Serif","titleFontSize":25,"titleFontWeight":"bold","titleColor":"#000","titlePadding":3}},"y":{"datum":75,"type":"quantitative","axis":null},"text":{"field":"t"}}},
{"data":{"name":"major"},"mark":{"type":"tick","orient":"vertical","size":20,"thickness":2,"color":"#000","opacity":1},"encoding":{"x":{"field":"t","type":"quantitative","axis":{"orient":"bottom","values":[0,200,400,600,800,1000,1200],"format":"d","ticks":false,"domain":false,"grid":false,"labelFlush":false,"labelOverlap":false,"labelFont":"DejaVu Serif","labelFontWeight":"bold","labelFontSize":22,"labelColor":"#000","labelBaseline":"middle","labelPadding":26,"title":"Revolution","titleFont":"DejaVu Serif","titleFontSize":25,"titleFontWeight":"bold","titleColor":"#000","titlePadding":3}},"y":{"datum":11.8,"type":"quantitative","axis":null}}},
{"data":{"name":"minor"},"mark":{"type":"tick","orient":"vertical","size":11,"thickness":2,"color":"#000","opacity":1},"encoding":{"x":{"field":"t","type":"quantitative","axis":{"orient":"bottom","values":[0,200,400,600,800,1000,1200],"format":"d","ticks":false,"domain":false,"grid":false,"labelFlush":false,"labelOverlap":false,"labelFont":"DejaVu Serif","labelFontWeight":"bold","labelFontSize":22,"labelColor":"#000","labelBaseline":"middle","labelPadding":26,"title":"Revolution","titleFont":"DejaVu Serif","titleFontSize":25,"titleFontWeight":"bold","titleColor":"#000","titlePadding":3}},"y":{"datum":6.5,"type":"quantitative","axis":null}}}
]}
]
}
